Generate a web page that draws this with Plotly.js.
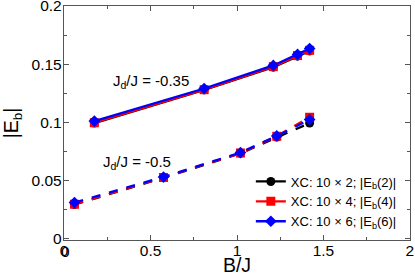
<!DOCTYPE html>
<html><head><meta charset="utf-8">
<script src="https://cdn.plot.ly/plotly-3.0.1.min.js"></script>
<style>html,body{margin:0;padding:0;background:#fff}#c{width:415px;height:276px}</style>
</head><body><div id="c"></div>
<script>
// Upper set: Jd/J = -0.35
const bUpper = [0.175, 0.81, 1.21, 1.35, 1.42];
const eUpper2 = [0.0995, 0.128, 0.1475, 0.157, 0.1615];
const eUpper4 = [0.0998, 0.1282, 0.148, 0.1575, 0.162];
const eUpper6 = [0.1012, 0.1292, 0.149, 0.1585, 0.1635];
// Lower set: Jd/J = -0.5
const bLower = [0.06, 0.575, 1.02, 1.23, 1.42];
const eLower2 = [0.0295, 0.0525, 0.0735, 0.0875, 0.0995];
const eLower4 = [0.0298, 0.0528, 0.0738, 0.0882, 0.1045];
const eLower6 = [0.0312, 0.0532, 0.0742, 0.0885, 0.1025];
const legendNames = ["XC: 10 × 2; |E<sub>b</sub>(2)|", "XC: 10 × 4; |E<sub>b</sub>(4)|", "XC: 10 × 6; |E<sub>b</sub>(6)|"];
const xTicks = [0, 0.5, 1, 1.5, 2];
const xTickText = ['0', '0.5', '1', '1.5', '2'];
const yTicks = [0, 0.05, 0.1, 0.15, 0.2];
const yTickText = ['0', '0.05', '0.1', '0.15', '0.2'];
const colors = ["#000000", "#ff0000", "#0000ff"];
const symbols = ["circle", "square", "diamond"];
const upper = [eUpper2, eUpper4, eUpper6];
const lower = [eLower2, eLower4, eLower6];

const traces = [];
for (let i = 0; i < 3; i++) {
  traces.push({x: bUpper, y: upper[i], mode: 'lines+markers', name: legendNames[i],
    line: {color: colors[i], width: 2.3}, marker: {color: colors[i], symbol: symbols[i], size: 9}, legendgroup: 'g'+i});
}
for (let i = 0; i < 3; i++) {
  traces.push({x: bLower, y: lower[i], mode: 'lines+markers', name: legendNames[i], showlegend: false,
    line: {color: colors[i], width: 2.3, dash: 'dash'}, marker: {color: colors[i], symbol: symbols[i], size: 9}, legendgroup: 'g'+i});
}
const axCommon = {showgrid: false, zeroline: false, showline: true, linecolor: '#555', linewidth: 1.2,
  mirror: 'allticks', ticks: 'inside', ticklen: 5, tickcolor: '#555', tickfont: {size: 15.5, color: '#000'},
  ticklabeloverflow: 'allow'};
const layout = {
  width: 415, height: 276, margin: {l: 64, r: 5, t: 6, b: 36},
  font: {family: 'Liberation Sans, Arial, sans-serif', color: '#000'},
  paper_bgcolor: '#fff', plot_bgcolor: '#fff',
  xaxis: Object.assign({}, axCommon, {range: [-0.0005, 2.0005], tickmode: 'array', tickvals: xTicks, ticktext: xTickText,
    ticklabelstandoff: -4,
    minor: {dtick: 0.25, ticks: 'inside', ticklen: 3, tickcolor: '#555'},
    title: {text: 'B/J', font: {size: 19.5}, standoff: 4}}),
  yaxis: Object.assign({}, axCommon, {range: [-0.0009, 0.20005], tickmode: 'array', tickvals: yTicks, ticktext: yTickText,
    ticklabelstandoff: -2,
    minor: {dtick: 0.025, ticks: 'inside', ticklen: 3, tickcolor: '#555'},
    title: {text: '|E<sub>b</sub>|', font: {size: 19.5}, standoff: 10}}),
  showlegend: true,
  legend: {x: 0.54, y: 0.314, xanchor: 'left', yanchor: 'top', bgcolor: 'rgba(0,0,0,0)', font: {size: 13}, tracegroupgap: 0},
  annotations: [
    {x: 0.5, y: 0.135, xref: 'x', yref: 'y', text: 'J<sub>d</sub>/J = -0.35', showarrow: false, font: {size: 15}},
    {x: 0.42, y: 0.0655, xref: 'x', yref: 'y', text: 'J<sub>d</sub>/J = -0.5', showarrow: false, font: {size: 15}},
    // x-axis "0" tick label (Plotly hides it at the axis corner)
    {x: xTicks[0], y: 0, xref: 'x', yref: 'paper', text: xTickText[0], showarrow: false, yanchor: 'top', yshift: -1, xshift: 1,
      font: {size: 15.5, color: '#000'}}
  ]
};
Plotly.newPlot('c', traces, layout, {displayModeBar: false, staticPlot: true});
</script></body></html>
